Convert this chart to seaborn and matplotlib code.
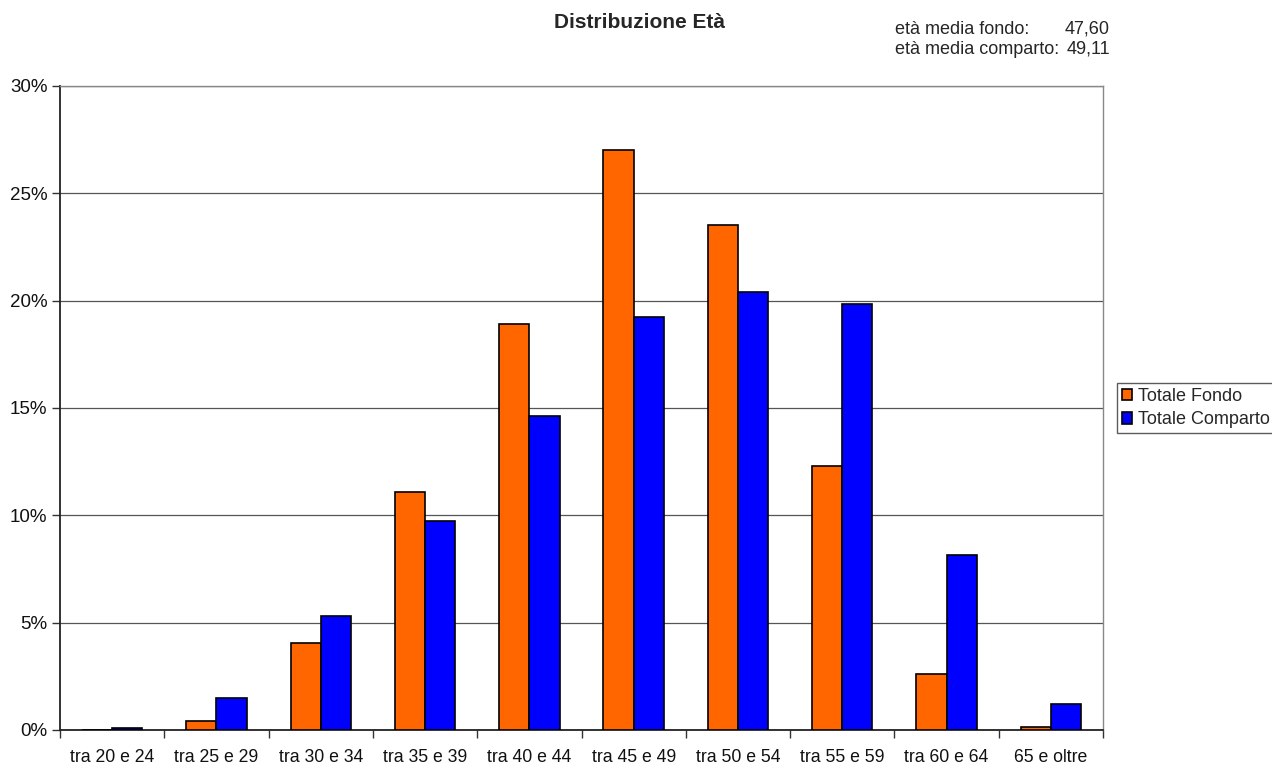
import numpy as np
import pandas as pd
import matplotlib
matplotlib.use("Agg")
import matplotlib.pyplot as plt
import seaborn as sns
from matplotlib.ticker import PercentFormatter

categories = ["tra 20 e 24", "tra 25 e 29", "tra 30 e 34", "tra 35 e 39", "tra 40 e 44",
              "tra 45 e 49", "tra 50 e 54", "tra 55 e 59", "tra 60 e 64", "65 e oltre"]
fondo = [0.0, 0.42, 4.05, 11.09, 18.91, 27.01, 23.52, 12.30, 2.61, 0.14]
comparto = [0.10, 1.49, 5.31, 9.73, 14.62, 19.24, 20.40, 19.84, 8.15, 1.21]
series_names = ["Totale Fondo", "Totale Comparto"]
colors = ["#FF6600", "#0000FF"]

df = pd.DataFrame({
    "cat": categories * 2,
    "val": fondo + comparto,
    "serie": [series_names[0]] * len(categories) + [series_names[1]] * len(categories),
})

sns.set_theme(style="white")
plt.rcParams["font.family"] = ["Liberation Sans", "DejaVu Sans"]

fig = plt.figure(figsize=(12.72, 7.65), dpi=100)
ax = fig.add_axes([60 / 1272, 35 / 765, (1103 - 60) / 1272, (730 - 86) / 765])

sns.barplot(data=df, x="cat", y="val", hue="serie", palette=colors, width=0.58,
            edgecolor="black", linewidth=1.2, saturation=1, ax=ax, legend=True, zorder=3)

ax.set_ylim(0, 30)
ax.set_xlim(-0.5, len(categories) - 0.5)
ax.set_yticks(np.arange(0, 31, 5))
ax.yaxis.set_major_formatter(PercentFormatter(decimals=0))
ax.grid(axis="y", color="#555555", linewidth=0.9, zorder=0)
ax.set_axisbelow(True)
ax.set_xlabel("")
ax.set_ylabel("")

ax.set_xticks(np.arange(len(categories)))
ax.set_xticklabels(categories)
ax.set_xticks(np.arange(-0.5, len(categories), 1), minor=True)
ax.tick_params(axis="x", which="major", length=0, labelsize=12.7, pad=14, colors="#111111")
ax.tick_params(axis="x", which="minor", length=6, width=1, color="#333333", direction="out", bottom=True)
ax.tick_params(axis="y", length=6, width=1, color="#333333", direction="out", labelsize=13.5,
               left=True, colors="#111111", pad=3)

for s in ["left", "bottom"]:
    ax.spines[s].set_color("#222222")
    ax.spines[s].set_linewidth(1.3)
for s in ["right", "top"]:
    ax.spines[s].set_color("#888888")
    ax.spines[s].set_linewidth(1.0)

leg = ax.legend(loc="center left", bbox_to_anchor=(1117 / 1272, 1 - 408 / 765),
                bbox_transform=fig.transFigure, frameon=True, fancybox=False,
                fontsize=13, handlelength=0.6, handleheight=0.6, handletextpad=0.3,
                borderpad=0.25, labelspacing=0.35, borderaxespad=0)
leg.get_frame().set_edgecolor("#333333")
leg.get_frame().set_linewidth(1.0)

fig.text(640 / 1272, 1 - 22 / 765, "Distribuzione Età", ha="center", va="center",
         fontsize=15, fontweight="bold")
fig.text(895 / 1272, 1 - 29 / 765, "età media fondo:", ha="left", va="center", fontsize=13)
fig.text(1110 / 1272, 1 - 29 / 765, "47,60", ha="right", va="center", fontsize=13)
fig.text(895 / 1272, 1 - 49 / 765, "età media comparto:", ha="left", va="center", fontsize=13)
fig.text(1110 / 1272, 1 - 49 / 765, "49,11", ha="right", va="center", fontsize=13)

fig.savefig("out.png", dpi=100)
